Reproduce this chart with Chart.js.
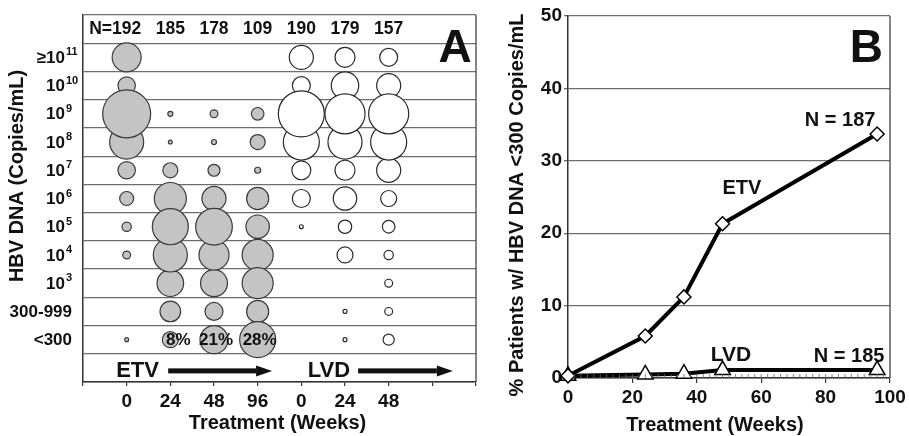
<!DOCTYPE html>
<html>
<head>
<meta charset="utf-8">
<script src="https://cdn.jsdelivr.net/npm/chart.js@4"></script>
<style>
  html, body { margin: 0; padding: 0; background: #fff; }
  #wrap { position: relative; width: 909px; height: 436px; }
  #cA { position: absolute; left: 0; top: 0; }
  #cB { position: absolute; left: 480px; top: 0; }
</style>
</head>
<body>
<div id="wrap">
  <canvas id="cA" width="480" height="436"></canvas>
  <canvas id="cB" width="429" height="436"></canvas>
</div>

<script>
  const FONT = "'Liberation Sans', Arial, Helvetica, sans-serif";
  Chart.defaults.font.family = FONT;
  Chart.defaults.font.weight = "bold";
  Chart.defaults.color = "#111";

  // Panel A: HBV DNA rows, top to bottom
  const rowLabels = ["≥10^11", "10^10", "10^9", "10^8", "10^7", "10^6", "10^5", "10^4", "10^3", "300-999", "<300"];
  const weekLabels = ["0", "24", "48", "96", "0", "24", "48"];
  const groupN = ["192", "185", "178", "109", "190", "179", "157"];

  // % of patients in each row (same order as rowLabels)
  const etvWeek0 = [16.4, 5.9, 45, 22.6, 5.9, 3.8, 1.7, 1.2, 0, 0, 0.3];
  const etvWeek24 = [0, 0, 0.5, 0.3, 4.4, 20, 25.3, 22.6, 13.8, 8.3, 5.0];
  const etvWeek48 = [0, 0, 1.2, 0.5, 2.8, 11.3, 26.2, 17.6, 14.2, 6.3, 15.3];
  const etvWeek96 = [0, 0, 3.1, 4.4, 0.7, 9.5, 10.7, 18.8, 18.8, 9.5, 25.3];
  const lvdWeek0 = [11.3, 6.3, 41.3, 25.3, 7.0, 6.3, 0.3, 0, 0, 0, 0];
  const lvdWeek24 = [7.8, 14.7, 31.3, 22.6, 7.8, 10.7, 3.5, 5.0, 0, 0.3, 0.3];
  const lvdWeek48 = [6.3, 11.3, 31.3, 25.3, 11.3, 5.0, 3.1, 1.7, 1.2, 1.2, 2.4];
  const undetectLabels = ["", "8%", "21%", "28%"];

  // Panel B
  const weeksB = [0, 24, 36, 48, 96];
  const etvUndetect = [0.3, 5.8, 11.2, 21.3, 33.7];
  const lvdUndetect = [0.3, 0.5, 0.6, 1.1, 1.1];

  const BUBBLE_K = 3.58; // px radius per sqrt(%)

  function bubbles(cols, firstCol) {
    const pts = [];
    cols.forEach((col, c) => {
      col.forEach((p, i) => {
        if (p > 0) pts.push({ x: firstCol + c + 1, y: rowLabels[i], r: BUBBLE_K * Math.sqrt(p) });
      });
    });
    // big bubbles on top
    return pts.sort((a, b) => a.r - b.r);
  }

  function font(size) {
    return "bold " + size + "px " + FONT;
  }

  function arrow(ctx, x1, x2, y) {
    const head = 16;
    ctx.fillRect(x1, y - 2.5, x2 - x1 - head, 5);
    ctx.beginPath();
    ctx.moveTo(x2 - head, y - 5.5);
    ctx.lineTo(x2, y);
    ctx.lineTo(x2 - head, y + 5.5);
    ctx.closePath();
    ctx.fill();
  }

  const panelA = {
    id: "panelA",
    afterDatasetsDraw(chart) {
      const { ctx, chartArea: a, scales } = chart;
      const x = scales.x, y = scales.y;
      ctx.save();

      ctx.strokeStyle = "#444";
      ctx.lineWidth = 1.3;
      ctx.beginPath();
      ctx.moveTo(a.right, a.top);
      ctx.lineTo(a.right, a.bottom);
      ctx.stroke();

      ctx.fillStyle = "#111";

      // group sizes in the header row
      const headY = y.getPixelForValue(0);
      ctx.font = font(17.5);
      ctx.textBaseline = "middle";
      groupN.forEach((n, i) => {
        const cx = x.getPixelForValue(i + 1);
        ctx.textAlign = "center";
        ctx.fillText(n, cx, headY);
        if (i === 0) {
          ctx.textAlign = "right";
          ctx.fillText("N=", cx - ctx.measureText(n).width / 2, headY);
        }
      });

      // row labels with superscripts
      rowLabels.forEach((lab, i) => {
        const cy = y.getPixelForValue(i + 1);
        const parts = lab.split("^");
        if (parts.length === 2) {
          ctx.font = font(17);
          ctx.textAlign = "right";
          ctx.fillText(parts[0], a.left - 18, cy + 1);
          ctx.font = font(11);
          ctx.textAlign = "left";
          ctx.fillText(parts[1], a.left - 17, cy - 5);
        } else {
          ctx.font = font(17);
          ctx.textAlign = "right";
          ctx.fillText(lab, a.left - 11, cy + 1);
        }
      });

      // % undetectable in the <300 row
      const lowY = y.getPixelForValue(rowLabels.length);
      ctx.font = font(17);
      ctx.textAlign = "center";
      undetectLabels.forEach((t, i) => {
        if (!t) return;
        const shift = i === 1 ? 8 : 2;
        ctx.fillText(t, x.getPixelForValue(i + 1) + shift, lowY + 1);
      });

      // panel letter
      ctx.font = font(46);
      ctx.textAlign = "center";
      ctx.textBaseline = "alphabetic";
      ctx.fillText("A", a.right - 21, 62);

      // treatment arrows
      const arrY = y.getPixelForValue(rowLabels.length + 1) + 3;
      ctx.font = font(22);
      ctx.textBaseline = "middle";
      ctx.textAlign = "center";
      ctx.fillText("ETV", x.getPixelForValue(1.25), arrY);
      arrow(ctx, x.getPixelForValue(1.95), x.getPixelForValue(4.33), arrY);
      ctx.fillText("LVD", x.getPixelForValue(5.63), arrY);
      arrow(ctx, x.getPixelForValue(6.3), x.getPixelForValue(8.47), arrY);

      // axis titles
      ctx.font = font(20);
      ctx.fillText("Treatment (Weeks)", (a.left + a.right) / 2 - 2, 423);
      ctx.translate(17, 176);
      ctx.rotate(-Math.PI / 2);
      ctx.fillText("HBV DNA (Copies/mL)", 0, 0);
      ctx.restore();
    }
  };

  new Chart(document.getElementById("cA"), {
    type: "bubble",
    data: {
      datasets: [
        {
          label: "ETV",
          data: bubbles([etvWeek0, etvWeek24, etvWeek48, etvWeek96], 0),
          backgroundColor: "#c4c4c4",
          borderColor: "#3a3a3a",
          borderWidth: 1.2
        },
        {
          label: "LVD",
          data: bubbles([lvdWeek0, lvdWeek24, lvdWeek48], 4),
          backgroundColor: "#ffffff",
          borderColor: "#2a2a2a",
          borderWidth: 1.2
        }
      ]
    },
    options: {
      responsive: false,
      animation: false,
      clip: false,
      layout: { autoPadding: false, padding: { top: 15, right: 2, bottom: 0, left: 0 } },
      plugins: { legend: { display: false }, tooltip: { enabled: false } },
      elements: { point: { hoverRadius: 0 } },
      scales: {
        x: {
          type: "linear",
          min: 0,
          max: 9,
          ticks: {
            stepSize: 1,
            padding: 4,
            font: { size: 19, weight: "bold" },
            color: "#111",
            callback: (v) => weekLabels[v - 1] || ""
          },
          grid: { drawOnChartArea: false, tickLength: 4, color: "#333", lineWidth: 1.2 },
          border: { color: "#333", width: 1.5 },
          afterFit: (s) => { s.height = 54; }
        },
        y: {
          type: "category",
          labels: ["", ...rowLabels, ""],
          offset: true,
          ticks: { display: false },
          grid: { offset: true, color: "#6e6e6e", lineWidth: 1.3, drawTicks: false },
          border: { color: "#333", width: 1.5 },
          afterFit: (s) => { s.width = 83; }
        }
      }
    },
    plugins: [panelA]
  });

  const panelB = {
    id: "panelB",
    afterDraw(chart) {
      const { ctx, chartArea: a, scales } = chart;
      const x = scales.x, y = scales.y;
      ctx.save();
      ctx.strokeStyle = "#444";
      ctx.lineWidth = 1.3;
      ctx.beginPath();
      ctx.moveTo(a.right, a.top);
      ctx.lineTo(a.right, a.bottom);
      ctx.stroke();

      // minor ticks every 2 weeks, pointing inward
      ctx.strokeStyle = "#666";
      ctx.lineWidth = 0.8;
      ctx.beginPath();
      for (let w = 2; w < 100; w += 2) {
        const px = x.getPixelForValue(w);
        ctx.moveTo(px, a.bottom);
        ctx.lineTo(px, a.bottom - 4);
      }
      ctx.stroke();

      ctx.fillStyle = "#111";
      ctx.textBaseline = "middle";
      ctx.textAlign = "center";
      ctx.font = font(20);
      ctx.fillText("N = 187", x.getPixelForValue(84.5), y.getPixelForValue(35.5));
      ctx.fillText("ETV", x.getPixelForValue(54), y.getPixelForValue(26.2));
      ctx.font = font(21);
      ctx.fillText("LVD", x.getPixelForValue(50.6), y.getPixelForValue(3.2));
      ctx.font = font(20);
      ctx.fillText("N = 185", x.getPixelForValue(87.3), y.getPixelForValue(3.0));

      ctx.font = font(46);
      ctx.textAlign = "right";
      ctx.textBaseline = "alphabetic";
      ctx.fillText("B", a.right - 7, 62);

      ctx.font = font(20);
      ctx.textAlign = "center";
      ctx.textBaseline = "middle";
      ctx.fillText("Treatment (Weeks)", 235, 425);
      ctx.translate(37, 205);
      ctx.rotate(-Math.PI / 2);
      ctx.fillText("% Patients w/ HBV DNA <300 Copies/mL", 0, 0);
      ctx.restore();
    }
  };

  new Chart(document.getElementById("cB"), {
    type: "line",
    data: {
      datasets: [
        {
          label: "ETV",
          data: weeksB.map((w, i) => ({ x: w, y: etvUndetect[i] })),
          borderColor: "#000",
          borderWidth: 4,
          pointStyle: "rectRot",
          pointRadius: 7,
          pointBackgroundColor: "#fff",
          pointBorderColor: "#000",
          pointBorderWidth: 1.5
        },
        {
          label: "LVD",
          data: weeksB.map((w, i) => ({ x: w, y: lvdUndetect[i] })),
          borderColor: "#000",
          borderWidth: 4,
          pointStyle: "triangle",
          pointRadius: 9,
          pointBackgroundColor: "#fff",
          pointBorderColor: "#000",
          pointBorderWidth: 1.5
        }
      ]
    },
    options: {
      responsive: false,
      animation: false,
      clip: false,
      layout: { autoPadding: false, padding: { top: 16, right: 19, bottom: 0, left: 0 } },
      plugins: { legend: { display: false }, tooltip: { enabled: false } },
      scales: {
        x: {
          type: "linear",
          min: 0,
          max: 100,
          ticks: { stepSize: 20, padding: 3, font: { size: 19, weight: "bold" }, color: "#111" },
          grid: { drawOnChartArea: false, tickLength: 5, color: "#333", lineWidth: 1.2 },
          border: { color: "#333", width: 1.5 },
          afterFit: (s) => { s.height = 58; }
        },
        y: {
          min: 0,
          max: 50,
          ticks: { stepSize: 10, padding: 2, font: { size: 19, weight: "bold" }, color: "#111" },
          grid: { color: "#6e6e6e", lineWidth: 1.3, tickLength: 4 },
          border: { color: "#333", width: 1.5 },
          afterFit: (s) => { s.width = 88; }
        }
      }
    },
    plugins: [panelB]
  });
</script>
</body>
</html>
